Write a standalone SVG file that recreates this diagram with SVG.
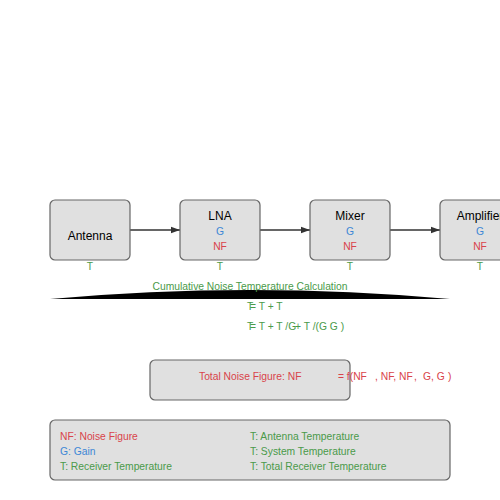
<svg xmlns="http://www.w3.org/2000/svg" width="500" height="500" viewBox="0 0 500 500">
<defs>
<style>
.box{fill:#e0e0e0;stroke:#666;stroke-width:1.2}
text{font-family:"Liberation Sans",Arial,sans-serif;font-size:10.3px}
.lbl{font-size:12px;fill:#000;text-anchor:middle}
.g{fill:#3c87d6;text-anchor:middle}
.nf{fill:#d9434a;text-anchor:middle}
.t{fill:#4a9a4a;text-anchor:middle}
.red{fill:#d9434a}
.blue{fill:#3c87d6}
.green{fill:#4a9a4a}
.conn{stroke:#333;stroke-width:1.5;fill:none}
</style>
<marker id="arr" viewBox="0 0 10 10" refX="10" refY="5" markerWidth="6" markerHeight="6" orient="auto" markerUnits="strokeWidth">
<path d="M0,1.5 L10,5 L0,8.5 Z" fill="#333"/>
</marker>
</defs>
<rect width="500" height="500" fill="#fff"/>
<g id="connectors">
<line class="conn" x1="130" y1="230" x2="180" y2="230" marker-end="url(#arr)"/>
<line class="conn" x1="260" y1="230" x2="310" y2="230" marker-end="url(#arr)"/>
<line class="conn" x1="390" y1="230" x2="440" y2="230" marker-end="url(#arr)"/>
</g>
<g id="antenna">
<rect class="box" x="50" y="200" width="80" height="60" rx="5"/>
<text class="lbl" x="90" y="240">Antenna</text>
<text class="t" x="90" y="270">T</text>
</g>
<g id="lna">
<rect class="box" x="180" y="200" width="80" height="60" rx="5"/>
<text class="lbl" x="220" y="220">LNA</text>
<text class="g" x="220" y="235">G</text>
<text class="nf" x="220" y="250">NF</text>
<text class="t" x="220" y="270">T</text>
</g>
<g id="mixer">
<rect class="box" x="310" y="200" width="80" height="60" rx="5"/>
<text class="lbl" x="350" y="220">Mixer</text>
<text class="g" x="350" y="235">G</text>
<text class="nf" x="350" y="250">NF</text>
<text class="t" x="350" y="270">T</text>
</g>
<g id="amplifier">
<rect class="box" x="440" y="200" width="80" height="60" rx="5"/>
<text class="lbl" x="480" y="220">Amplifier</text>
<text class="g" x="480" y="235">G</text>
<text class="nf" x="480" y="250">NF</text>
<text class="t" x="480" y="270">T</text>
</g>
<g id="calculation">
<path d="M50,299 Q250,281 450,299 Z" fill="#000"/>
<text class="green" x="250" y="290" text-anchor="middle">Cumulative Noise Temperature Calculation</text>
<text class="green" x="247" y="310">T</text>
<text class="green" x="250" y="310">= T + T</text>
<text class="green" x="247" y="330">T</text>
<text class="green" x="250" y="330">= T + T  /G</text>
<text class="green" x="295" y="330">+ T /(</text>
<text class="green" x="319" y="330">G G )</text>
</g>
<g id="noise-figure">
<rect class="box" x="150" y="360" width="200" height="40" rx="5"/>
<text class="red" x="199" y="380">Total Noise Figure: NF</text>
<text class="red" x="338" y="380">= f(NF</text>
<text class="red" x="375" y="380">, NF, NF</text>
<text class="red" x="414" y="380">,</text>
<text class="red" x="423" y="380">G, G</text>
<text class="red" x="448" y="380">)</text>
</g>
<g id="legend">
<rect class="box" x="50" y="420" width="400" height="60" rx="5"/>
<text class="red" x="60" y="440">NF: Noise Figure</text>
<text class="blue" x="60" y="455">G: Gain</text>
<text class="green" x="60" y="470">T: Receiver Temperature</text>
<text class="green" x="250" y="440">T: Antenna Temperature</text>
<text class="green" x="250" y="455">T: System Temperature</text>
<text class="green" x="250" y="470">T: Total Receiver Temperature</text>
</g>
</svg>
